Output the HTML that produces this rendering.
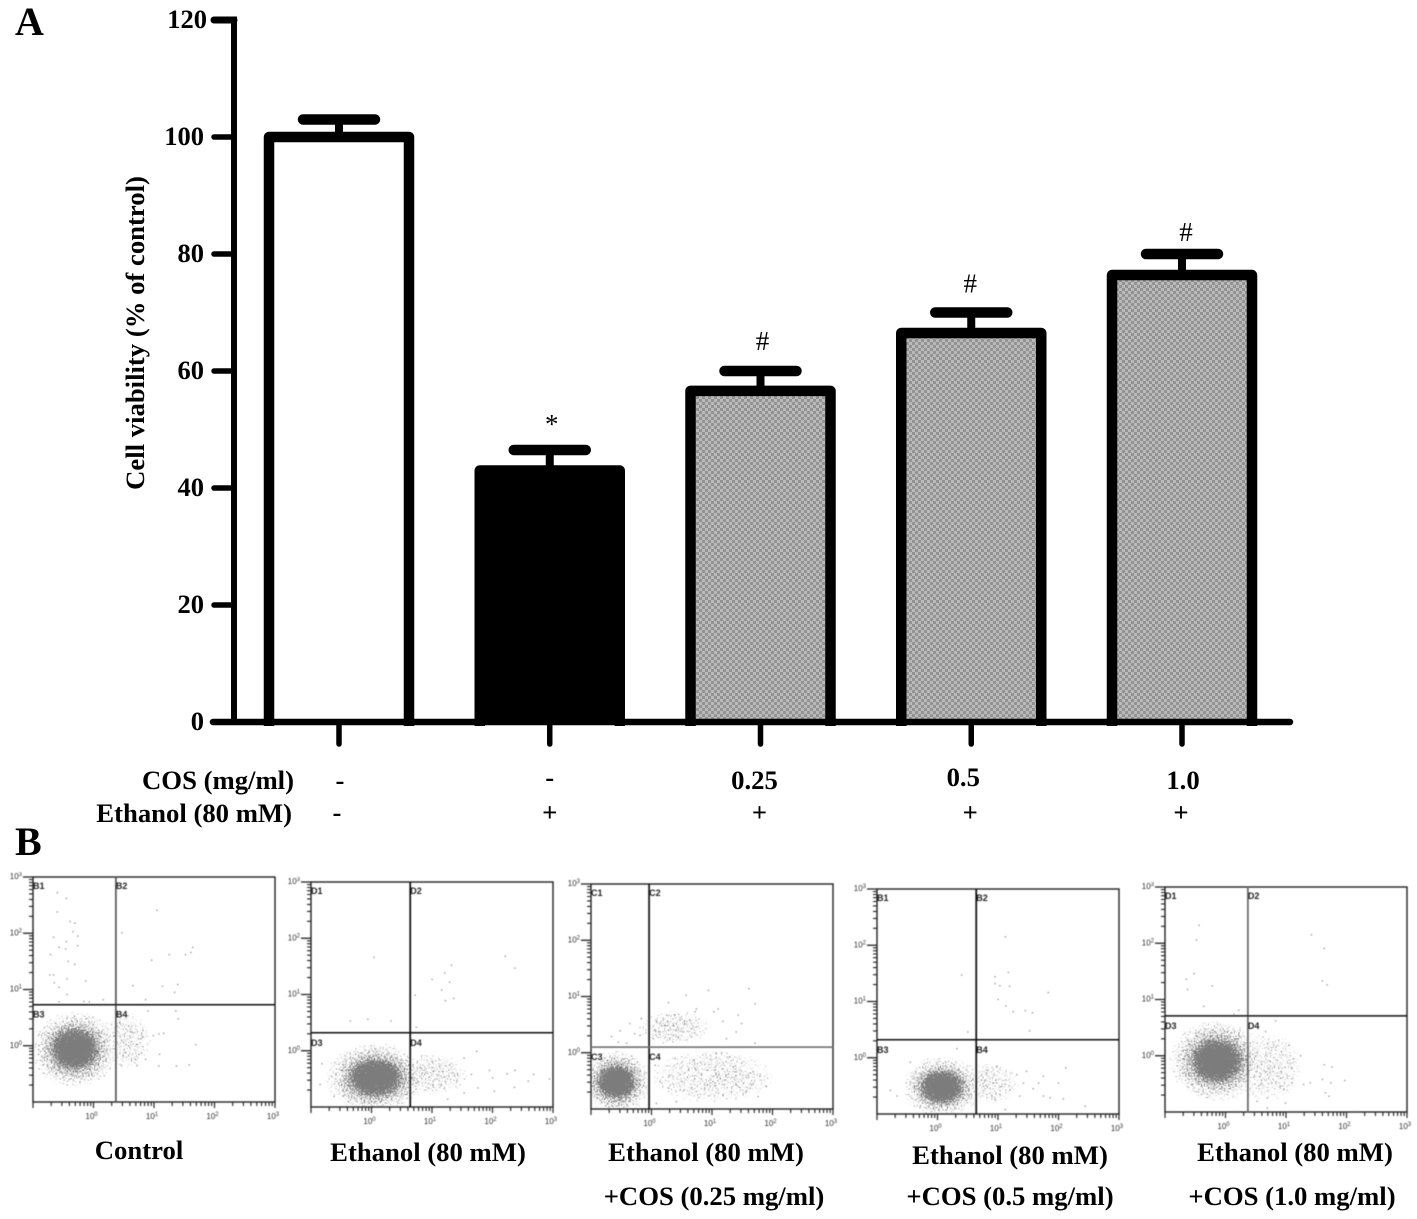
<!DOCTYPE html>
<html lang="en">
<head>
<meta charset="utf-8">
<title>Cell viability and flow cytometry</title>
<style>
html,body{margin:0;padding:0;background:#fff;width:1417px;height:1219px;overflow:hidden}
svg{display:block}
text{font-family:"Liberation Serif",serif;fill:#000}
.lab{font-weight:bold;font-size:26.7px}
.tick{font-weight:bold;font-size:26.5px;text-anchor:end}
.mini{font-family:"Liberation Sans",sans-serif;font-size:8px;fill:#333}
.quad{font-family:"Liberation Sans",sans-serif;font-size:9px;font-weight:bold;fill:#222}
</style>
</head>
<body>
<svg id="fig" xmlns="http://www.w3.org/2000/svg" width="1417" height="1219" viewBox="0 0 1417 1219">
<defs>
<pattern id="checker" patternUnits="userSpaceOnUse" width="6" height="6">
<rect width="6" height="6" fill="#b9b9b9"/>
<rect width="3" height="3" fill="#939393"/>
<rect x="3" y="3" width="3" height="3" fill="#939393"/>
</pattern>
<radialGradient id="cloudGrad">
<stop offset="0" stop-color="#808080" stop-opacity="1"/>
<stop offset="0.38" stop-color="#808080" stop-opacity="0.78"/>
<stop offset="0.56" stop-color="#808080" stop-opacity="0.54"/>
<stop offset="0.8" stop-color="#808080" stop-opacity="0.41"/>
<stop offset="1" stop-color="#808080" stop-opacity="0.3"/>
</radialGradient>
<radialGradient id="tailGrad">
<stop offset="0" stop-color="#808080" stop-opacity="0.41"/>
<stop offset="0.7" stop-color="#808080" stop-opacity="0.38"/>
<stop offset="1" stop-color="#808080" stop-opacity="0.3"/>
</radialGradient>
<filter id="grain" x="-5%" y="-5%" width="110%" height="110%" color-interpolation-filters="sRGB">
<feTurbulence type="fractalNoise" baseFrequency="0.7" numOctaves="2" seed="4" result="n"/>
<feColorMatrix in="n" type="matrix" values="0 0 0 0 0.5  0 0 0 0 0.5  0 0 0 0 0.5  1 0 0 0 0" result="na"/>
<feComposite in="SourceGraphic" in2="na" operator="arithmetic" k1="0" k2="1" k3="1" k4="-1" result="sum"/>
<feComponentTransfer in="sum" result="th"><feFuncA type="linear" slope="12" intercept="0"/></feComponentTransfer>
<feFlood flood-color="#7c7c7c" result="col"/>
<feComposite in="col" in2="th" operator="in"/>
</filter>
<filter id="soft" x="-2%" y="-2%" width="104%" height="104%"><feGaussianBlur stdDeviation="0.4"/></filter>
</defs>

<text x="15" y="35" font-size="40" font-weight="bold">A</text>
<text x="15" y="855" font-size="40" font-weight="bold">B</text>

<g id="barChart"></g>

<text class="lab" transform="translate(144,333) rotate(-90)" text-anchor="middle">Cell viability (% of control)</text>

<text class="lab" x="294" y="789" text-anchor="end">COS (mg/ml)</text>
<text class="lab" x="292" y="822" text-anchor="end">Ethanol (80 mM)</text>

<g id="flowPanels" filter="url(#soft)"></g>

<text class="lab" x="139" y="1159" text-anchor="middle">Control</text>
<text class="lab" x="428" y="1161" text-anchor="middle">Ethanol (80 mM)</text>
<text class="lab" x="706" y="1161" text-anchor="middle">Ethanol (80 mM)</text>
<text class="lab" x="714" y="1205" text-anchor="middle">+COS (0.25 mg/ml)</text>
<text class="lab" x="1010" y="1164" text-anchor="middle">Ethanol (80 mM)</text>
<text class="lab" x="1010" y="1205" text-anchor="middle">+COS (0.5 mg/ml)</text>
<text class="lab" x="1295" y="1161" text-anchor="middle">Ethanol (80 mM)</text>
<text class="lab" x="1292" y="1205" text-anchor="middle">+COS (1.0 mg/ml)</text>
</svg>

<script>
// ---- Bar chart data ----
const barCategories = ['control', 'ethanol', 'cos-0.25', 'cos-0.5', 'cos-1.0'];
const barValues = [100, 43, 56.6, 66.5, 76.4];
const errorTops = [103, 46.5, 60, 70, 80];
const barFills = ['#fff', '#000', 'url(#checker)', 'url(#checker)', 'url(#checker)'];
const yTicks = [0, 20, 40, 60, 80, 100, 120];
const significance = ['', '*', '#', '#', '#'];
const cosLabels = ['-', '-', '0.25', '0.5', '1.0'];
const ethanolLabels = ['-', '+', '+', '+', '+'];

// ---- Flow cytometry data (log10 decades) ----
const scatterControl = [[-.6,2.72],[-.45,2.62],[-.6,2.38],[-.39,2.21],[-.31,2.18],[-.34,2.03],[-.26,1.95],[-.66,1.93],[-.45,1.85],[-.57,1.75],[-.26,1.78],[-.46,1.72],[-.71,1.62],[-.42,1.5],[-.31,1.45],[-.72,1.26],[-.66,1.26],[-.44,1.19],[-.65,1.12],[-.57,1.04],[-.13,1.15],[-.44,.91],[-.57,.78],[-.16,.79],[.16,.82],[-.07,.78],[1.05,2.41],[.47,2.01],[1.64,1.75],[1.25,1.62],[1.52,1.62],[1.61,1.66],[.96,1.52],[1.39,1.09],[.65,1.07],[1.14,1.06],[1.34,.95],[.86,.82],[.9,.62],[1.36,.62],[1.4,.48],[.58,.35],[1.69,.02],[1.08,.21],[1.16,.22],[.86,-.24],[.69,-.24],[.52,-.12],[1.37,-.36],[1.58,-.34],[1.08,-.36],[1.09,-.15],[.81,.15],[.99,.18],[.46,-.35],[.64,.24],[.72,-.35],[.43,.41],[.49,.06],[.55,.53]];
const scatterEthanol = [[.04,1.66],[2.21,1.68],[2.37,1.47],[1.32,1.52],[1.21,1.38],[1,1.27],[1.29,1.22],[1.16,1.08],[.72,.99],[1.22,.89],[1.36,.93],[-.35,.53],[-.06,.56],[.32,.53],[.74,.42],[1.74,-.01],[1.29,-.25],[1.53,-.13],[1.95,-.35],[2.24,-.41],[2.37,-.35],[2.68,-.42],[2.94,-.5],[2.59,-.54],[2,-.48],[2.36,-.65],[2.03,-.72],[1.53,-.75],[1.26,-.86],[1.65,-.42],[1.15,-.6],[1.03,-.36],[.88,-.42],[1.12,-.28],[.76,-.54],[.94,-.66],[.82,-.31],[.71,-.48],[1.41,-.54],[1.76,-.66],[1,-.19],[-.82,-.23],[-.66,-.46],[-.85,-.6],[-.62,-.81],[-.47,-.72]];
const scatterCos025 = [[.94,1.11],[1.61,1.14],[1.71,.87],[.57,1.02],[.28,.89],[.74,.78],[1.1,.78],[1.03,.73],[1.43,.67],[1.18,.56],[1.4,.37],[1.49,.52],[1.24,.25],[1.71,.17],[-.52,.39],[-.17,.61],[-.66,.29],[-.28,.34],[-.36,.52],[-.19,.31],[-.55,.19],[-.41,.17],[.08,.55],[.25,.67],[.36,.49],[.47,.58],[.63,.58],[.72,.73],[.41,.4],[.14,.37],[.03,.25],[.52,.37],[.3,.25],[.44,.28],[.66,.43],[.22,.49],[.39,.67],[.55,.52],[.14,.52],[.06,.4],[.74,.46],[.36,.31],[.41,.52],[.28,.4],[.06,-.22],[.3,-.4],[.39,-.1],[.69,-.13],[.72,-.28],[1.07,-.01],[1.16,0],[1.29,-.07],[1.27,-.38],[1.4,-.57],[1.6,-.4],[1.68,-.34],[1.79,-.42],[1.9,-.6],[1.57,-.69],[1.76,-.78],[1.4,-.34],[1.05,-.54],[.88,-.63],[.66,-.63],[.41,-.87],[.08,-.9],[.14,-.51],[.28,-.63],[.5,-.51],[1.02,-.42],[1.35,-.25],[1.52,-.54],[1.65,-.57],[1.18,-.75]];
const scatterCos05 = [[1.12,2.15],[1.17,1.52],[.95,1.44],[.95,1.32],[1.03,1.28],[1.19,1.27],[1.83,1.16],[1,1.04],[1.13,.92],[1.25,.82],[1.45,.84],[1.57,.8],[1.52,.48],[.4,1.47],[.5,.46],[.32,.16],[2.12,-.18],[.98,-.15],[1.47,-.24],[1.75,-.33],[1.67,-.45],[1.58,-.55],[1.42,-.45],[1.75,-.68],[1.86,-.71],[2.08,-.73],[2.44,-.86],[1.36,-.68],[1.2,-.57],[1.06,-.51],[1.03,-.65],[.92,-.45],[1.12,-.92],[.9,-.68],[1.31,-.3],[.81,-.27],[.76,-.51],[.95,-.74],[2,-.45],[-.78,-.58],[-.45,-.08],[-.67,-.68]];
const scatterCos10 = [[-.44,2.32],[-.48,2.06],[1.42,2.15],[1.63,1.91],[-.65,1.36],[-.52,1.46],[-.63,1.18],[-.22,1.24],[-.36,.88],[1.6,1.33],[1.68,1.26],[.22,.81],[.14,.74],[.83,.62],[.66,.43],[1.24,0],[1.76,-.2],[1.63,-.16],[1.97,-.44],[1.74,-.48],[1.6,-.42],[1.4,-.48],[1.29,-.51],[1.65,-.66],[1.71,-.72],[1.1,-.22],[1.05,.19],[.91,-.4],[.96,-.6],[.8,.19],[.74,-.1],[.58,-.51],[.69,-.75],[.99,-.84],[.69,-.93],[.52,-.81],[.88,-.22],[1.1,-.48],[.47,-.37],[.41,-.16]];
const flowScatter = [scatterControl, scatterEthanol, scatterCos025, scatterCos05, scatterCos10];
// main population: centre x, centre y, spread x, spread y (decades)
const flowClouds = [
  [-.31,-.06,.72,.68],
  [.06,-.48,.82,.62],
  [-.58,-.52,.58,.56],
  [.07,-.52,.66,.54],
  [-.14,-.09,.78,.72]
];
// faint secondary populations per panel: centre x, centre y, spread x, spread y (decades)
const flowTails = [
  [[.55,.1,.4,.5]],
  [[.95,-.42,.65,.36]],
  [[.36,.45,.6,.3],[1.0,-.42,1.0,.46]],
  [[.8,-.45,.55,.36]],
  [[.7,-.2,.55,.6]]
];
const gateX = [.37,.64,-.04,.64,.37];
const gateY = [.73,.32,.10,.32,.71];
const quadPrefix = ['B','D','C','B','D'];
const decadeTicks = [-1,0,1,2,3];

// ---- Layout (not data) ----
const layoutBoxes = [
  {l:33,t:877,vc:'#555',hc:'#111'},
  {l:311,t:882,vc:'#111',hc:'#111'},
  {l:591,t:884,vc:'#111',hc:'#666'},
  {l:877,t:889,vc:'#111',hc:'#111'},
  {l:1165,t:887,vc:'#666',hc:'#111'}
];
const panelW = 242, panelH = 225;

const NS = 'http://www.w3.org/2000/svg';
function mk(tag, parent, attrs, txt) {
  const el = document.createElementNS(NS, tag);
  for (const k in attrs) el.setAttribute(k, attrs[k]);
  if (txt !== undefined) el.textContent = txt;
  parent.appendChild(el);
  return el;
}

// ---- Axis functions for the bar chart ----
const yScale = v => 722 - v * 5.85;
const xCenter = i => 339 + i * 210.75;

const chart = document.getElementById('barChart');

barValues.forEach((v, i) => {
  const cx = xCenter(i), half = 70;
  const fill = mk('rect', chart, {x: cx - half, y: yScale(v), width: half * 2, height: yScale(0) - yScale(v), fill: barFills[i]});
  
  
  const stem = mk('line', chart, {x1: cx, x2: cx, y1: yScale(errorTops[i]), y2: yScale(v), stroke: '#000', 'stroke-width': 8});
  
  
  const cap = mk('line', chart, {x1: cx - 36, x2: cx + 36, y1: yScale(errorTops[i]), y2: yScale(errorTops[i]), stroke: '#000', 'stroke-width': 10.5, 'stroke-linecap': 'round'});
  
  
  const outline = mk('path', chart, {d: 'M' + (cx - half) + ' 726V' + yScale(v) + 'H' + (cx + half) + 'V726', fill: 'none', stroke: '#000', 'stroke-width': 10.5, 'stroke-linejoin': 'round'});
  
  
  const tick = mk('line', chart, {x1: cx, x2: cx, y1: 722, y2: 744, stroke: '#000', 'stroke-width': 5.5, 'stroke-linecap': 'round'});
  
  
  if (significance[i]) {
    const sigDy = [0, 0, -1, 0, 7][i], sigDx = [0, 2, 2, -1, 4][i];
    const mark = mk('text', chart, {x: cx + sigDx, y: yScale(errorTops[i]) - (significance[i] === '*' ? 17 : 20) + sigDy, 'font-size': 27, 'text-anchor': 'middle'}, significance[i]);
    
    
  }
  const cosDy = [0, -3, 0, -3, 0][i], cosDx = [1, 0, -6, -8, 1][i];
  const cos = mk('text', chart, {class: 'lab', x: cx + cosDx, y: 789 + cosDy, 'text-anchor': 'middle'}, cosLabels[i]);
  
  
  const etDx = [-2, 0, -1, -1, -1][i];
  const et = mk('text', chart, {class: 'lab', x: cx + etDx, y: 821, 'text-anchor': 'middle'}, ethanolLabels[i]);
  
  
});

const yAxis = mk('line', chart, {x1: 234, x2: 234, y1: 16.5, y2: 725, stroke: '#000', 'stroke-width': 6});


const xAxis = mk('line', chart, {x1: 213, x2: 1290, y1: 722, y2: 722, stroke: '#000', 'stroke-width': 6.5, 'stroke-linecap': 'round'});



yTicks.forEach(t => {
  const y = yScale(t);
  const ln = mk('line', chart, {x1: 214, x2: 234, y1: y, y2: y, stroke: '#000', 'stroke-width': t === 120 ? 7 : 5.5, 'stroke-linecap': 'round'});
  
  
  const lb = mk('text', chart, {class: 'tick', x: t === 120 ? 207 : 204, y: y + 8}, String(t));
  
  
});

// ---- Flow panels ----
const flowRoot = document.getElementById('flowPanels');
const defs = document.querySelector('defs');

layoutBoxes.forEach((b, p) => {
  const sx = d => b.l + (d + 1) * (panelW / 4);
  const sy = d => b.t + panelH - (d + 1) * (panelH / 4);
  const g = mk('g', flowRoot, {});
  
  

  const clip = mk('clipPath', defs, {id: 'clip' + p});
  mk('rect', clip, {x: b.l, y: b.t, width: panelW, height: panelH});

  const dots = mk('g', g, {'clip-path': 'url(#clip' + p + ')'});
  const rxU = panelW / 4, ryU = panelH / 4;
  flowTails[p].forEach(tl => {
    const te = mk('ellipse', dots, {cx: sx(tl[0]), cy: sy(tl[1]), rx: tl[2] * rxU, ry: tl[3] * ryU, fill: 'url(#tailGrad)', filter: 'url(#grain)'});
    
    
  });
  const c = flowClouds[p];
  const cloud = mk('ellipse', dots, {cx: sx(c[0]), cy: sy(c[1]), rx: c[2] * rxU, ry: c[3] * ryU, fill: 'url(#cloudGrad)', filter: 'url(#grain)'});
  
  

  flowScatter[p].forEach(pt => {
    const r = mk('rect', dots, {x: sx(pt[0]) - .6, y: sy(pt[1]) - .6, width: 1.3, height: 1.3, fill: '#8a8a8a'});
    
    
  });

  const frame = mk('rect', g, {x: b.l, y: b.t, width: panelW, height: panelH, fill: 'none', stroke: '#222', 'stroke-width': 1.4});
  
  
  const v = mk('line', g, {x1: sx(gateX[p]), x2: sx(gateX[p]), y1: b.t, y2: b.t + panelH, stroke: b.vc, 'stroke-width': 1.7});
  
  
  const h = mk('line', g, {x1: b.l, x2: b.l + panelW, y1: sy(gateY[p]), y2: sy(gateY[p]), stroke: b.hc, 'stroke-width': 1.5});
  
  

  // quadrant labels
  [[b.l, b.t + 12], [sx(gateX[p]), b.t + 12], [b.l, sy(gateY[p]) + 13], [sx(gateX[p]), sy(gateY[p]) + 13]].forEach((q, i) => {
    const t = mk('text', g, {class: 'quad', x: q[0], y: q[1]}, quadPrefix[p] + (i + 1));
    
    
  });

  // log ticks
  let dx = '', dy = '';
  [-1, 0, 1, 2].forEach(d => {
    for (let m = 2; m <= 9; m++) {
      const l = d + Math.log10(m);
      dx += 'M' + sx(l).toFixed(1) + ' ' + (b.t + panelH) + 'v4';
      dy += 'M' + b.l + ' ' + sy(l).toFixed(1) + 'h-4';
    }
  });
  const minor = mk('path', g, {d: dx + dy, stroke: '#222', 'stroke-width': 1.1, fill: 'none'});
  
  

  decadeTicks.forEach(d => {
    const mx = mk('line', g, {x1: sx(d), x2: sx(d), y1: b.t + panelH, y2: b.t + panelH + 6, stroke: '#222', 'stroke-width': 1.2});
    
    
    if (d >= 0) {
      const my = mk('line', g, {x1: b.l - 10, x2: b.l, y1: sy(d), y2: sy(d), stroke: '#222', 'stroke-width': 1.3});
      
      
      const xl = mk('text', g, {class: 'mini', x: sx(d) - 2, y: b.t + panelH + 17, 'text-anchor': 'middle'}, '10');
      mk('tspan', xl, {dy: -3, 'font-size': 6}, String(d));
      
      
      const yl = mk('text', g, {class: 'mini', x: b.l - 11, y: sy(d) + 2, 'text-anchor': 'end'}, '10');
      mk('tspan', yl, {dy: -3, 'font-size': 6}, String(d));
      
      
    }
  });
});
</script>
</body>
</html>
